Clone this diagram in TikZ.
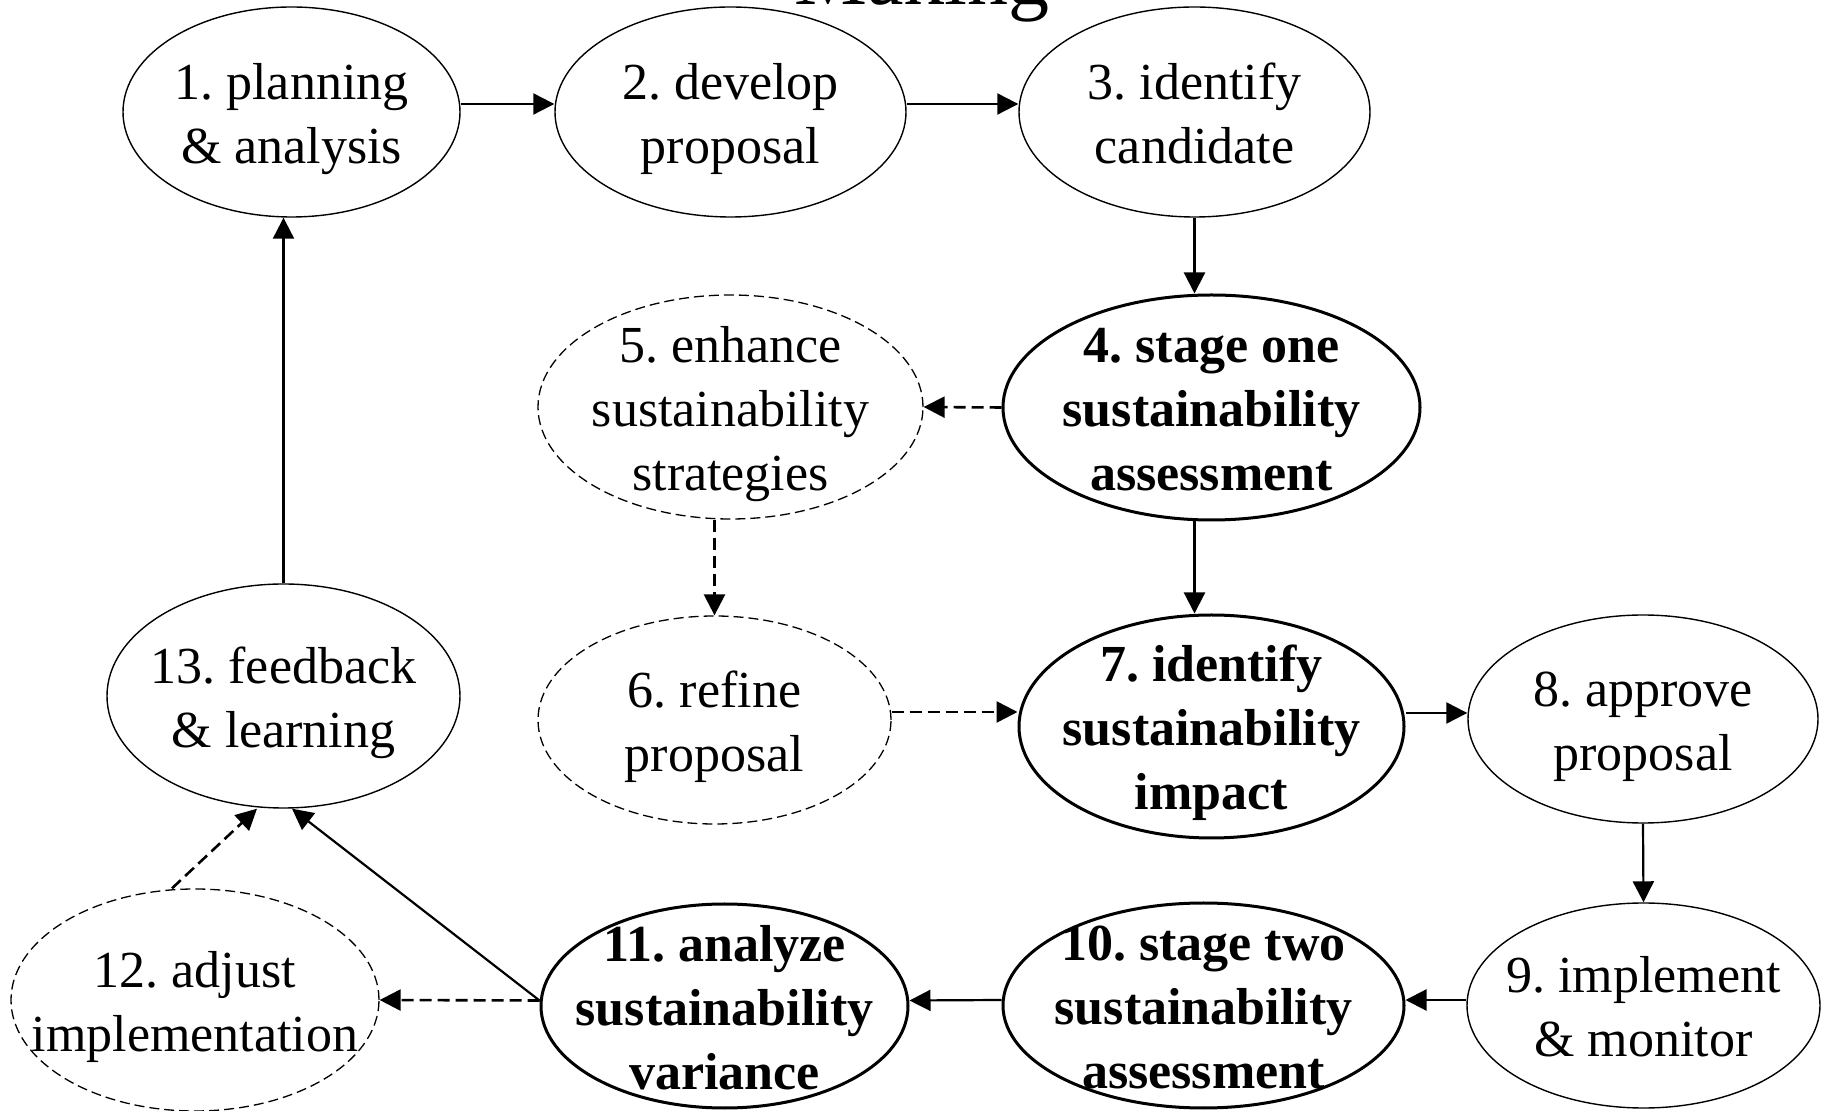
\documentclass[tikz,border=0pt]{standalone}
\usepackage{fontspec}
\setmainfont{Liberation Serif}
\usetikzlibrary{shapes.geometric,arrows.meta}
\frenchspacing
\newcommand\twol[2]{\makebox[0pt]{\raisebox{6.25pt}[0pt][0pt]{\begin{tabular}[t]{@{}c@{}}#1\\#2\end{tabular}}}}
\newcommand\threel[3]{\makebox[0pt]{\raisebox{22.25pt}[0pt][0pt]{\begin{tabular}[t]{@{}c@{}}#1\\#2\\#3\end{tabular}}}}
\tikzset{
  basebox/.style={ellipse, inner sep=0pt, font=\fontsize{26pt}{32pt}\selectfont\frenchspacing},
  plainbox/.style={basebox, draw, line width=0.7pt},
  strongbox/.style={basebox, draw, line width=1.5pt, font=\fontsize{26pt}{32pt}\selectfont\bfseries\frenchspacing},
  optbox/.style={basebox, draw, line width=0.65pt, dash pattern=on 5pt off 2.5pt},
  flow/.style={line width=1.1pt, -{Triangle[length=10.5pt,width=10.5pt]}},
  optflow/.style={flow, line width=1.3pt, dash pattern=on 6pt off 3pt},
}
\begin{document}
\begin{tikzpicture}[x=0.5pt,y=-0.5pt]
\useasboundingbox (0,0) rectangle (1822,1111);
\clip (0,0) rectangle (1822,1111);
\fill[white] (0,0) rectangle (1822,1111);
\node[font=\fontsize{41pt}{49pt}\selectfont, anchor=base, inner sep=0pt] (title) at (922,5) {Making};

\node[plainbox, minimum width=168.5pt, minimum height=105pt] (n1) at (291.5,112) {\twol{1. planning}{\& analysis}};
\node[plainbox, minimum width=175.5pt, minimum height=105pt] (n2) at (730.5,112) {\twol{2. develop}{proposal}};
\node[plainbox, minimum width=175.5pt, minimum height=105pt] (n3) at (1194.5,112) {\twol{3. identify}{candidate}};
\node[strongbox, minimum width=208.5pt, minimum height=112.5pt] (n4) at (1211.5,407.5) {\threel{4. stage one}{sustainability}{assessment}};
\node[optbox, minimum width=192.5pt, minimum height=112pt] (n5) at (730.5,407) {\threel{5. enhance}{sustainability}{strategies}};
\node[optbox, minimum width=176.5pt, minimum height=104pt] (n6) at (714.5,720) {\twol{6. refine}{proposal}};
\node[strongbox, minimum width=192.5pt, minimum height=111.5pt] (n7) at (1211.5,726.5) {\threel{7. identify}{sustainability}{impact}};
\node[plainbox, minimum width=175pt, minimum height=104pt] (n8) at (1643,719) {\twol{8. approve}{proposal}};
\node[plainbox, minimum width=176.5pt, minimum height=112pt] (n13) at (283.5,696) {\twol{13. feedback}{\& learning}};
\node[plainbox, minimum width=176.5pt, minimum height=102.5pt] (n9) at (1643.5,1005.5) {\twol{9. implement}{\& monitor}};
\node[strongbox, minimum width=200.5pt, minimum height=102.5pt] (n10) at (1203.5,1005.5) {\threel{10. stage two}{sustainability}{assessment}};
\node[strongbox, minimum width=183.5pt, minimum height=102pt] (n11) at (724.5,1006) {\threel{11. analyze}{sustainability}{variance}};
\node[optbox, minimum width=184pt, minimum height=111pt] (n12) at (195,1000) {\twol{12. adjust}{implementation}};

\draw[flow] ([yshift=4pt]n1.east) -- ([yshift=4pt]n2.west);
\draw[flow] ([yshift=4pt]n2.east) -- ([yshift=4pt]n3.west);
\draw[flow] (n3.south) -- (n3.south |- n4.north);
\draw[optflow] (n4.west) -- (n5.east);
\draw[flow] (n3.south |- n4.south) -- (n3.south |- n7.north);
\draw[optflow] (n6.north |- n5.south) -- (n6.north);
\draw[optflow] ([yshift=4pt]n6.east) -- ([yshift=4pt]n6.east -| n7.west);
\draw[flow] ([yshift=6.75pt]n7.east) -- ([yshift=6.75pt]n7.east -| n8.west);
\draw[flow] (n8.south) -- (n9.north);
\draw[flow] ([yshift=2.75pt]n9.west) -- ([yshift=2.75pt]n10.east);
\draw[flow] ([yshift=2.75pt]n10.west) -- ([yshift=2.75pt]n11.east);
\draw[optflow] ([yshift=2.75pt]n11.west) -- (n12.east);
\draw[flow] ([yshift=2.75pt]n11.west) -- ([xshift=4.25pt]n13.south);
\draw[optflow] ([xshift=-11.5pt]n12.north) -- ([xshift=-13.25pt]n13.south);
\draw[flow] (n13.north) -- (n13.north |- n1.south);
\end{tikzpicture}
\end{document}
